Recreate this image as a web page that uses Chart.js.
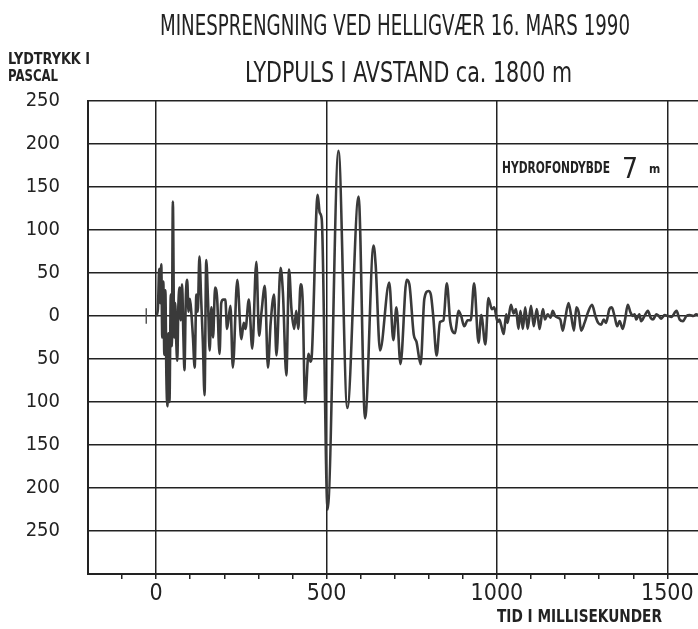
<!DOCTYPE html>
<html>
<head>
<meta charset="utf-8">
<script src="https://cdn.jsdelivr.net/npm/chart.js@4.4.0/dist/chart.umd.min.js"></script>
<style>
  body { margin: 0; background: #fff; }
  #wrap { width: 698px; height: 629px; position: relative; }
</style>
</head>
<body>
<div id="wrap"><canvas id="myChart"></canvas></div>
<script>
// time in ms, pressure in Pa
const timeMs = [
  0, 5, 9, 12, 15, 18, 21, 24, 27, 30, 33, 36, 39, 43, 46, 49, 53, 56, 59, 62,
  65, 69, 72, 76, 80, 83, 87, 91, 95, 99, 103, 108, 113, 118, 122, 127, 132, 137, 142, 147,
  152, 157, 162, 167, 173, 179, 186, 191, 197, 203, 208, 218, 225, 238, 250, 257, 262, 272, 282, 294,
  302, 309, 319, 328, 336, 346, 353, 365, 372, 382, 390, 397, 405, 411, 417, 424, 430, 437, 447, 453,
  457, 474, 480, 486, 503, 535, 561, 594, 613, 638, 644, 657, 684, 696, 705, 717, 735, 743, 756, 764,
  776, 787, 799, 806, 813, 823, 833, 843, 853, 863, 877, 887, 895, 904, 914, 923, 933, 946, 954, 966,
  975, 985, 992, 1002, 1007, 1012, 1020, 1027, 1031, 1041, 1049, 1056, 1063, 1069, 1076, 1083, 1090, 1100, 1108, 1117,
  1125, 1135, 1141, 1149, 1157, 1164, 1171, 1179, 1186, 1193, 1200, 1210, 1218, 1226, 1233, 1240, 1247, 1257, 1267, 1279,
  1289, 1297, 1306, 1313, 1320, 1330, 1337, 1345, 1353, 1360, 1369, 1376, 1384, 1392, 1399, 1404, 1409, 1418, 1423, 1433,
  1443, 1451, 1458, 1468, 1475, 1482, 1492, 1502, 1512, 1527, 1536, 1546, 1556, 1566, 1576, 1585, 1594
];
const pressurePa = [
  0, 8, 55, 15, 60, -25, 40, -45, 30, -70, -105, -20, -100, 25, -35, 133, -25, 15, -30, -52,
  10, 33, -5, 37, -25, -63, 20, 42, 5, 20, 5, -25, -60, 25, 5, 69, 20, -30, -92, 65,
  20, -40, 10, -25, 33, 20, -44, 15, 19, 19, -15, 12, -60, 42, -27, -8, -15, 19, -38, 63,
  -23, 4, 35, -60, -8, 25, -46, 56, 27, -69, 54, 8, -15, 6, -15, 37, 17, -101, -44, -53,
  -44, 141, 120, 112, -225, 192, -107, 139, -119, 82, 60, -40, 39, -28, 10, -56, 42, 37, -22, -30,
  -56, 20, 29, 25, 0, -46, -7, -5, 38, -7, -20, 6, 0, -12, -5, -5, 38, -31, 1, -33,
  21, 8, 10, -7, -4, -10, -21, 2, -8, 13, 3, 8, -15, 6, -15, 10, -15, 12, -12, 8,
  -15, 8, -4, 2, -2, 6, 0, -2, -4, -17, -4, 15, 0, -17, 10, 4, -17, -8, 4, 13,
  0, -8, -10, -4, -8, 8, 10, 0, -12, -6, -15, -4, 13, 4, 0, 2, -4, 2, -6, 0,
  6, -2, -4, 2, 0, -3, 1, 0, -1, 6, -4, -6, 0, 1, 0, 2, 0
];
// little start mark left of t = 0
const markMs = [-29, -29];
const markPa = [-9, 9];

const xTicks = [-100, 0, 100, 200, 300, 400, 500, 600, 700, 800, 900, 1000, 1100, 1200, 1300, 1400, 1500];
const xLabelled = [0, 500, 1000, 1500];
const yTicks = [-300, -250, -200, -150, -100, -50, 0, 50, 100, 150, 200, 250];

const titleText = 'MINESPRENGNING VED HELLIGVÆR 16. MARS 1990';
const subtitleText = 'LYDPULS I AVSTAND ca. 1800 m';

const FONT = "'Liberation Sans Narrow', 'DejaVu Sans Condensed', 'Noto Sans', sans-serif";
const INK = '#222';

// squeeze text sideways so it fills a given width (plotter lettering is narrow)
function fitText(c, text, font, left, baseline, width) {
  c.font = font;
  const w = c.measureText(text).width;
  c.save();
  c.translate(left, baseline);
  c.scale(width / w, 1);
  c.fillText(text, 0, 0);
  c.restore();
}

const extraText = {
  id: 'extraText',
  afterDraw(chart) {
    const c = chart.ctx;
    c.save();
    c.fillStyle = INK;
    c.textBaseline = 'alphabetic';
    c.textAlign = 'left';
    fitText(c, titleText, '28px ' + FONT, 160, 35, 470);
    fitText(c, subtitleText, '28px ' + FONT, 245, 82, 327);
    fitText(c, 'LYDTRYKK I', 'bold 16px ' + FONT, 8, 64, 82);
    fitText(c, 'PASCAL', 'bold 16px ' + FONT, 8, 81, 50);
    fitText(c, 'HYDROFONDYBDE', 'bold 15px ' + FONT, 502, 173, 108);
    c.font = '28px ' + FONT;
    c.fillText('7', 622, 178);
    c.font = 'bold 12px ' + FONT;
    c.fillText('m', 649, 173);
    fitText(c, 'TID I MILLISEKUNDER', 'bold 17px ' + FONT, 497, 622, 165);
    c.restore();
  }
};

const ctx = document.getElementById('myChart');
new Chart(ctx, {
  type: 'line',
  data: {
    datasets: [
      {
        label: 'Lydtrykk',
        data: timeMs.map((t, i) => ({ x: t, y: pressurePa[i] })),
        borderColor: '#3a3a3a',
        borderWidth: 2.6,
        pointRadius: 0,
        cubicInterpolationMode: 'monotone'
      },
      {
        label: 'start',
        data: markMs.map((t, i) => ({ x: t, y: markPa[i] })),
        borderColor: '#555',
        borderWidth: 1.5,
        pointRadius: 0
      }
    ]
  },
  options: {
    animation: false,
    responsive: true,
    maintainAspectRatio: false,
    devicePixelRatio: 1,
    layout: { padding: { left: 0, right: 0, top: 101, bottom: 19 } },
    plugins: {
      legend: { display: false },
      tooltip: { enabled: false },
      title: { display: false },
      subtitle: { display: false }
    },
    scales: {
      x: {
        type: 'linear',
        min: -200,
        max: 1590,
        afterBuildTicks: scale => { scale.ticks = xTicks.map(v => ({ value: v })); },
        ticks: {
          autoSkip: false,
          maxRotation: 0,
          color: INK,
          padding: 4,
          font: { family: FONT, size: 23, lineHeight: 1 },
          callback: v => xLabelled.includes(v) ? String(v) : ''
        },
        grid: {
          color: c => (c.tick && c.tick.value % 500 === 0) ? INK : 'rgba(0,0,0,0)',
          tickColor: INK,
          lineWidth: 1.5,
          tickLength: 5
        },
        border: { color: INK, width: 2 }
      },
      y: {
        type: 'linear',
        min: -300,
        max: 250,
        afterBuildTicks: scale => { scale.ticks = yTicks.map(v => ({ value: v })); },
        afterFit: scale => { scale.width = 88; },
        ticks: {
          color: INK,
          padding: 28,
          font: { family: FONT, size: 20, lineHeight: 1 },
          callback: v => v === -300 ? '' : String(Math.abs(v))
        },
        grid: { color: INK, lineWidth: 1.5, drawTicks: false },
        border: { color: INK, width: 2 }
      }
    }
  },
  plugins: [extraText]
});
</script>
</body>
</html>
